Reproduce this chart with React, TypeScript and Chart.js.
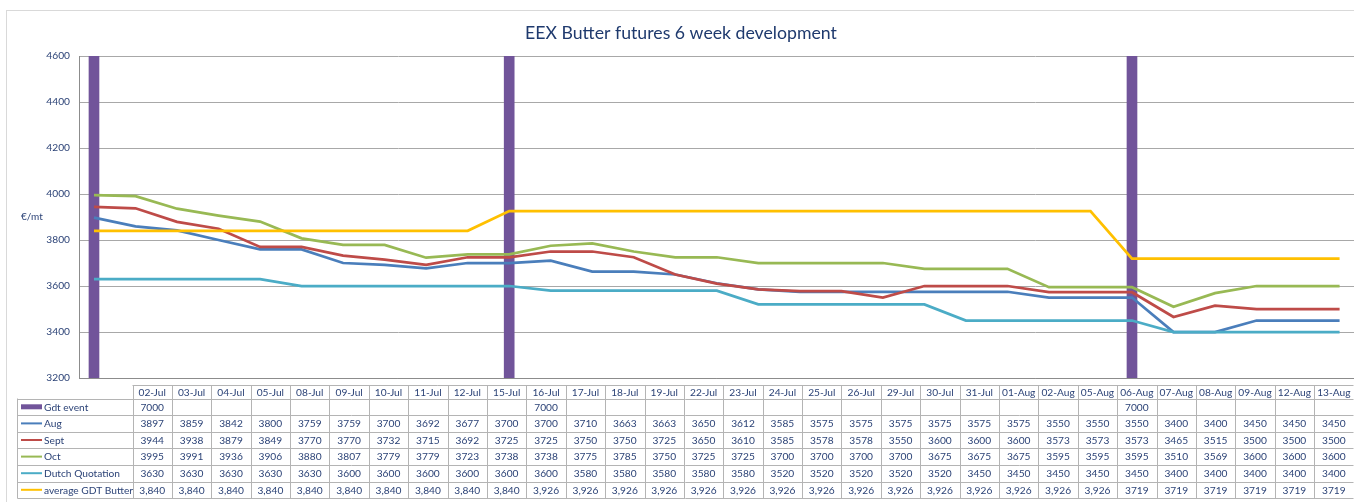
import React, { useEffect, useRef } from "react";
import { Chart, registerables } from "chart.js";

Chart.register(...registerables);

const chartTitle = "EEX Butter futures 6 week development";
const yAxisLabel = "€/mt";

const categories = [
  "02-Jul", "03-Jul", "04-Jul", "05-Jul", "08-Jul", "09-Jul", "10-Jul", "11-Jul",
  "12-Jul", "15-Jul", "16-Jul", "17-Jul", "18-Jul", "19-Jul", "22-Jul", "23-Jul",
  "24-Jul", "25-Jul", "26-Jul", "29-Jul", "30-Jul", "31-Jul", "01-Aug", "02-Aug",
  "05-Aug", "06-Aug", "07-Aug", "08-Aug", "09-Aug", "12-Aug", "13-Aug",
];

const gdtEvent: (number | null)[] = [
  7000, null, null, null, null, null, null, null, null, null,
  7000, null, null, null, null, null, null, null, null, null,
  null, null, null, null, null, 7000, null, null, null, null, null,
];

const aug = [
  3897, 3859, 3842, 3800, 3759, 3759, 3700, 3692, 3677, 3700,
  3700, 3710, 3663, 3663, 3650, 3612, 3585, 3575, 3575, 3575,
  3575, 3575, 3575, 3550, 3550, 3550, 3400, 3400, 3450, 3450, 3450,
];

const sept = [
  3944, 3938, 3879, 3849, 3770, 3770, 3732, 3715, 3692, 3725,
  3725, 3750, 3750, 3725, 3650, 3610, 3585, 3578, 3578, 3550,
  3600, 3600, 3600, 3573, 3573, 3573, 3465, 3515, 3500, 3500, 3500,
];

const oct = [
  3995, 3991, 3936, 3906, 3880, 3807, 3779, 3779, 3723, 3738,
  3738, 3775, 3785, 3750, 3725, 3725, 3700, 3700, 3700, 3700,
  3675, 3675, 3675, 3595, 3595, 3595, 3510, 3569, 3600, 3600, 3600,
];

const dutchQuotation = [
  3630, 3630, 3630, 3630, 3630, 3600, 3600, 3600, 3600, 3600,
  3600, 3580, 3580, 3580, 3580, 3580, 3520, 3520, 3520, 3520,
  3520, 3450, 3450, 3450, 3450, 3450, 3400, 3400, 3400, 3400, 3400,
];

const avgGdtText = [
  "3,840", "3,840", "3,840", "3,840", "3,840", "3,840", "3,840", "3,840", "3,840", "3,840",
  "3,926", "3,926", "3,926", "3,926", "3,926", "3,926", "3,926", "3,926", "3,926", "3,926",
  "3,926", "3,926", "3,926", "3,926", "3,926", "3719", "3719", "3719", "3719", "3719", "3719",
];
const avgGdt = avgGdtText.map((s) => Number(s.replace(",", "")));

const yTicks = [3200, 3400, 3600, 3800, 4000, 4200, 4400, 4600];

const FONT = "Lato, 'Noto Sans', sans-serif";
const NAVY = "#2C4377";
const GRID = "#A8A8A8";
const TABLE_LINE = "#B4B4B4";

const C_GDT = "#71549A";
const C_AUG = "#4A7EBB";
const C_SEPT = "#BE4B48";
const C_OCT = "#98B954";
const C_DUTCH = "#4BACC6";
const C_AVG = "#FFC000";

const seriesRows = [
  { name: "Gdt event", color: C_GDT, bar: true, text: gdtEvent.map((v) => (v == null ? "" : String(v))) },
  { name: "Aug", color: C_AUG, bar: false, text: aug.map(String) },
  { name: "Sept", color: C_SEPT, bar: false, text: sept.map(String) },
  { name: "Oct", color: C_OCT, bar: false, text: oct.map(String) },
  { name: "Dutch Quotation", color: C_DUTCH, bar: false, text: dutchQuotation.map(String) },
  { name: "average GDT Butter", color: C_AVG, bar: false, text: avgGdtText },
];

const toXY = (arr: (number | null)[]) =>
  arr.map((v, i) => ({ x: i, y: v })).filter((p) => p.y != null);

const overlayPlugin = {
  id: "overlay",
  beforeDraw(chart: any) {
    const ctx = chart.ctx;
    ctx.save();
    ctx.fillStyle = "#FFFFFF";
    ctx.fillRect(0, 0, chart.width, chart.height);
    ctx.strokeStyle = "#D9D9D9";
    ctx.lineWidth = 1;
    ctx.strokeRect(6.5, 10.5, chart.width + 10, chart.height + 10);
    ctx.restore();
  },
  afterDraw(chart: any) {
    const ctx = chart.ctx;
    const { left, right, bottom } = chart.chartArea;
    ctx.save();
    // x axis line
    ctx.strokeStyle = "#8C8C8C";
    ctx.lineWidth = 1;
    ctx.beginPath();
    ctx.moveTo(left, Math.round(bottom) + 0.5);
    ctx.lineTo(right, Math.round(bottom) + 0.5);
    ctx.stroke();

    // title
    ctx.fillStyle = "#1F3A6E";
    ctx.font = `17.7px ${FONT}`;
    ctx.textAlign = "center";
    ctx.textBaseline = "middle";
    ctx.fillText(chartTitle, 681, 33);

    // y label
    ctx.fillStyle = NAVY;
    ctx.font = `10px ${FONT}`;
    ctx.textAlign = "left";
    ctx.fillText(yAxisLabel, 21, 217);

    // data table
    const legLeft = 17.5;
    const dataLeft = 132.5;
    const tableRight = 1353.5;
    const n = categories.length;
    const colW = (tableRight - dataLeft) / n;
    const headTop = 385.5;
    const headBottom = 398.5;
    const rowH = 16.6;
    const tableBottom = headBottom + rowH * seriesRows.length;

    ctx.strokeStyle = TABLE_LINE;
    ctx.lineWidth = 1;
    ctx.beginPath();
    ctx.moveTo(dataLeft, headTop);
    ctx.lineTo(tableRight, headTop);
    for (let r = 0; r <= seriesRows.length; r++) {
      const y = Math.round(headBottom + rowH * r) + 0.5;
      ctx.moveTo(legLeft, y);
      ctx.lineTo(tableRight, y);
    }
    ctx.moveTo(legLeft, headBottom);
    ctx.lineTo(legLeft, Math.round(tableBottom) + 0.5);
    for (let c = 0; c <= n; c++) {
      const x = Math.round(dataLeft + colW * c) + 0.5;
      ctx.moveTo(x, headTop);
      ctx.lineTo(x, Math.round(tableBottom) + 0.5);
    }
    ctx.stroke();

    ctx.font = `10.2px ${FONT}`;
    ctx.fillStyle = NAVY;
    ctx.textAlign = "center";
    ctx.textBaseline = "middle";
    categories.forEach((cat, i) => {
      ctx.fillText(cat, dataLeft + colW * (i + 0.5), (headTop + headBottom) / 2 + 0.5);
    });

    seriesRows.forEach((row, r) => {
      const cy = headBottom + rowH * (r + 0.5);
      if (row.bar) {
        ctx.fillStyle = row.color;
        ctx.fillRect(21, cy - 2.5, 21, 5);
      } else {
        ctx.strokeStyle = row.color;
        ctx.lineWidth = 2;
        ctx.beginPath();
        ctx.moveTo(21, cy);
        ctx.lineTo(42, cy);
        ctx.stroke();
      }
      ctx.fillStyle = NAVY;
      ctx.textAlign = "left";
      ctx.fillText(row.name, 44, cy + 0.5);
      ctx.textAlign = "center";
      row.text.forEach((t, i) => {
        if (t) ctx.fillText(t, dataLeft + colW * (i + 0.5), cy + 0.5);
      });
    });
    ctx.restore();
  },
};

export default function App() {
  const canvasRef = useRef<HTMLCanvasElement | null>(null);

  useEffect(() => {
    const canvas = canvasRef.current;
    if (!canvas) return;
    const lineDs = (label: string, data: number[], color: string, order: number) => ({
      type: "line" as const,
      label,
      data: toXY(data),
      borderColor: color,
      backgroundColor: color,
      borderWidth: 2.75,
      pointRadius: 0,
      tension: 0,
      fill: false,
      order,
    });
    const chart = new Chart(canvas, {
      type: "line",
      data: {
        datasets: [
          {
            type: "bar" as const,
            label: "Gdt event",
            data: toXY(gdtEvent) as any,
            backgroundColor: C_GDT,
            borderWidth: 0,
            barThickness: 10,
            order: 10,
          } as any,
          lineDs("Aug", aug, C_AUG, 5),
          lineDs("Sept", sept, C_SEPT, 4),
          lineDs("Oct", oct, C_OCT, 3),
          lineDs("Dutch Quotation", dutchQuotation, C_DUTCH, 2),
          lineDs("average GDT Butter", avgGdt, C_AVG, 1),
        ],
      },
      options: {
        responsive: false,
        animation: false,
        layout: { padding: { top: 56, bottom: 124, left: 0, right: 0 } },
        plugins: {
          legend: { display: false },
          title: { display: false },
          tooltip: { enabled: false },
        },
        scales: {
          x: {
            type: "linear",
            display: false,
            offset: false,
            grid: { offset: false },
            min: -0.361,
            max: 30.347,
          },
          y: {
            type: "linear",
            min: yTicks[0],
            max: yTicks[yTicks.length - 1],
            afterBuildTicks: (scale: any) => {
              scale.ticks = yTicks.map((v) => ({ value: v }));
            },
            afterFit: (scale: any) => {
              scale.width = 79;
            },
            grid: { color: GRID, lineWidth: 1, drawTicks: false },
            border: { display: true, color: "#8C8C8C" },
            ticks: {
              padding: 9,
              color: NAVY,
              font: { family: FONT, size: 10.2 },
              callback: (v: any) => String(v),
            },
          },
        },
      },
      plugins: [overlayPlugin],
    });
    return () => chart.destroy();
  }, []);

  return (
    <div style={{ position: "absolute", left: 0, top: 0, width: 1354, height: 502, background: "#fff" }}>
      <canvas ref={canvasRef} width={1354} height={502} style={{ display: "block" }} />
    </div>
  );
}
